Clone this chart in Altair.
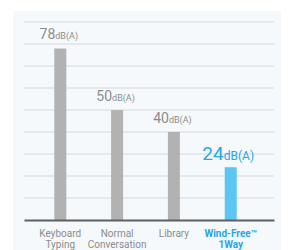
import altair as alt
import pandas as pd

categories = ["Keyboard Typing", "Normal Conversation", "Library", "Wind-Free™ 1Way"]
values = [78, 50, 40, 24]
highlight = [False, False, False, True]
unit = "dB(A)"
grid_values = [10, 20, 30, 40, 50, 60, 70, 80, 90]

GRAY = "#b2b2b2"
BLUE = "#5cc6f2"
TEXT_GRAY = "#8c8c8c"
TEXT_BLUE = "#2aa5e4"
PANEL = "#f5f9fc"
FONT = "Roboto"

df = pd.DataFrame({"cat": categories, "val": values, "hl": highlight})
df["unit"] = unit
grid_df = pd.DataFrame({"g": grid_values})

W, H = 250, 198

x = alt.X(
    "cat:N",
    sort=categories,
    title=None,
    scale=alt.Scale(paddingInner=0, paddingOuter=0.2, align=0.346),
    axis=alt.Axis(
        labelAngle=0,
        ticks=False,
        domainColor="#5f5f5f",
        domainWidth=2,
        labelPadding=8,
        labelFontSize=10,
        labelFont=FONT,
        labelLineHeight=11,
        zindex=1,
        labelExpr="split(datum.label, ' ')",
        labelColor=alt.ExprRef(f"datum.value == '{categories[3]}' ? '{TEXT_BLUE}' : '{TEXT_GRAY}'"),
        labelFontWeight=alt.ExprRef(f"datum.value == '{categories[3]}' ? 'bold' : 'normal'"),
    ),
)
yscale = alt.Scale(domain=[0, 90], nice=False)
y = alt.Y("val:Q", title=None, scale=yscale, axis=None)

base = alt.Chart(df)

panel = alt.Chart(pd.DataFrame({"p": [0]})).mark_rect(color=PANEL).encode(
    x=alt.value(-11), x2=alt.value(W + 30), y=alt.value(-11), y2=alt.value(H + 40)
)

grid = alt.Chart(grid_df).mark_rule(color="#d5d9dd", strokeWidth=1).encode(
    y=alt.Y("g:Q", scale=yscale, axis=None), x=alt.value(0), x2=alt.value(W)
)

bars = base.mark_bar(size=12).encode(
    x=x,
    y=y,
    color=alt.condition(alt.datum.hl, alt.value(BLUE), alt.value(GRAY)),
)

gray = base.transform_filter(~alt.datum.hl)
blue = base.transform_filter(alt.datum.hl)

g_num = gray.mark_text(align="right", baseline="alphabetic", dx=-5, dy=-9, fontSize=14,
                       font=FONT, color=TEXT_GRAY).encode(x=x, y=y, text="val:Q")
g_unit = gray.mark_text(align="left", baseline="alphabetic", dx=-5, dy=-9, fontSize=9,
                        font=FONT, color=TEXT_GRAY).encode(x=x, y=y, text="unit:N")
b_num = blue.mark_text(align="right", baseline="alphabetic", dx=-7, dy=-7, fontSize=19,
                       font=FONT, color=TEXT_BLUE).encode(x=x, y=y, text="val:Q")
b_unit = blue.mark_text(align="left", baseline="alphabetic", dx=-7, dy=-7, fontSize=12,
                        font=FONT, color=TEXT_BLUE).encode(x=x, y=y, text="unit:N")

chart = (
    alt.layer(panel, grid, bars, g_num, g_unit, b_num, b_unit)
    .properties(
        width=W,
        height=H,
        autosize=alt.AutoSizeParams(type="none"),
        padding={"left": 16, "top": 14, "right": 7, "bottom": 32},
        background="white",
    )
    .configure_view(stroke=None)
)

chart.save("out.html", embed_options={"renderer": "svg", "actions": False})
